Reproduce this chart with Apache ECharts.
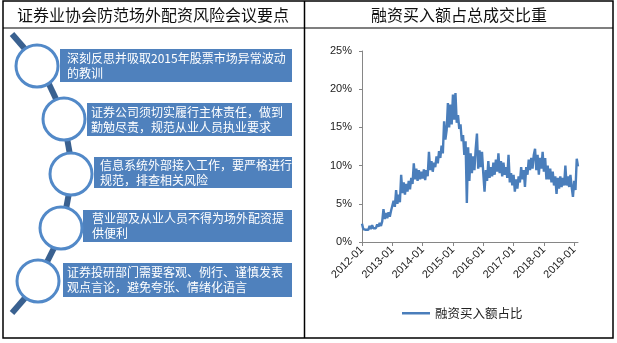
<!DOCTYPE html>
<html>
<head>
<meta charset="utf-8">
<script src="https://cdn.jsdelivr.net/npm/echarts@6/dist/echarts.min.js"></script>
<style>
html,body{margin:0;padding:0;background:#fff;}
#chart{width:617px;height:343px;}
</style>
</head>
<body>
<div id="chart"></div>
<script>
// ---- data ----
const leftTitle = '证券业协会防范场外配资风险会议要点';
const rightTitle = '融资买入额占总成交比重';
const seriesName = '融资买入额占比';
const points = [
  ['深刻反思并吸取2015年股票市场异常波动', '的教训'],
  ['证券公司须切实履行主体责任，做到', '勤勉尽责，规范从业人员执业要求'],
  ['信息系统外部接入工作，要严格进行', '规范，排查相关风险'],
  ['营业部及从业人员不得为场外配资提', '供便利'],
  ['证券投研部门需要客观、例行、谨慎发表', '观点言论，避免夸张、情绪化语言']
];
const tickYears = [2012, 2013, 2014, 2015, 2016, 2017, 2018, 2019];
const tickLabels = ['2012-01', '2013-01', '2014-01', '2015-01', '2016-01', '2017-01', '2018-01', '2019-01'];
// semi-monthly samples (24 per year), values in %
const ratio2012 = [2.4,1.7,1.9,1.6,1.8,1.6,2.1,1.7,2.2,1.8,2.0,1.8,2.3,2.0,2.5,2.1,2.7,4.3,3.0,3.8,3.1,3.9,3.3,4.1];
const ratio2013 = [4.2,5.4,4.6,6.8,5.0,6.2,5.2,8.8,6.4,7.8,6.2,7.6,6.6,8.0,6.9,8.4,7.6,10.3,8.2,9.6,8.0,9.4,8.2,9.2];
const ratio2014 = [8.3,9.5,8.1,9.4,8.6,11.8,9.4,10.6,9.2,10.4,9.8,11.2,10.3,11.9,11.0,12.6,11.6,15.8,13.4,14.6,18.2,15.0,18.0,15.4];
const ratio2015 = [19.3,16.0,19.5,15.6,16.6,14.8,15.4,13.2,14.0,11.4,13.2,5.1,12.4,8.0,11.6,9.0,11.2,9.4,12.2,14.2,9.6,12.0,9.8,11.8];
const ratio2016 = [9.0,6.6,9.4,8.0,10.6,8.4,9.8,8.6,10.4,8.8,10.8,9.2,11.6,9.0,10.6,8.6,10.4,8.8,9.8,8.4,11.4,7.8,9.0,7.4];
const ratio2017 = [8.8,6.6,8.2,7.0,8.6,7.8,9.8,8.2,9.4,7.2,9.8,8.8,10.8,9.4,11.0,9.6,11.4,12.2,9.4,11.4,8.8,11.0,9.6,11.8];
const ratio2018 = [9.2,11.0,8.2,10.0,8.2,9.6,7.8,9.2,7.4,8.6,6.3,8.4,7.0,8.6,7.2,8.4,7.4,10.0,7.4,8.6,7.2,8.8,7.2,5.9];
const ratio2019 = [8.0,6.8,10.9,9.9];

// ---- build series from the arrays ----
const byYear = [[2012, ratio2012],[2013, ratio2013],[2014, ratio2014],[2015, ratio2015],
                [2016, ratio2016],[2017, ratio2017],[2018, ratio2018],[2019, ratio2019]];
const lineData = [];
byYear.forEach(([yr, arr]) => arr.forEach((v, i) => lineData.push([yr + i / 24, v])));
const xMax = lineData[lineData.length - 1][0];

const CJK = '"Noto Sans CJK SC", sans-serif';
const BLUE = '#4F81BD';
const STALK = '#3A6190';
const RING = '#5289C8';

// left diagram layout
const boxes = [
  {x: 60, y: 49, h: 33, tx: 67, cx: 37, cy: 66},
  {x: 87, y: 103, h: 33, tx: 91, cx: 64, cy: 119},
  {x: 94, y: 157, h: 31, tx: 100, cx: 71, cy: 174},
  {x: 83, y: 210, h: 32, tx: 92, cx: 61, cy: 228},
  {x: 63, y: 263, h: 34, tx: 67, cx: 38, cy: 281}
];
const stalks = [
  [12, 34, 25, 49], [48, 82, 56, 99], [67, 138, 70, 155],
  [69, 193, 66, 209], [55, 246, 47, 262], [25, 298, 12, 313]
];

const graphics = [];
stalks.forEach(s => graphics.push({
  type: 'line', z: 10, shape: {x1: s[0], y1: s[1], x2: s[2], y2: s[3]},
  style: {stroke: STALK, lineWidth: 6, lineCap: 'butt'}
}));
boxes.forEach((b, k) => {
  graphics.push({type: 'rect', z: 11, shape: {x: b.x, y: b.y, width: 292 - b.x, height: b.h},
    style: {fill: BLUE}});
  graphics.push({type: 'text', z: 13, style: {
    text: points[k].join('\n'), x: b.tx, y: b.y + b.h / 2, fill: '#fff',
    font: '12px ' + CJK, lineHeight: 15, textAlign: 'left', textVerticalAlign: 'middle', verticalAlign: 'middle'
  }});
  graphics.push({type: 'circle', z: 12, shape: {cx: b.cx, cy: b.cy, r: 21},
    style: {fill: '#fff', stroke: RING, lineWidth: 3}});
});
// frame and titles
graphics.push({type: 'rect', z: 20, shape: {x: 3, y: 1, width: 610, height: 337},
  style: {fill: 'none', stroke: '#000', lineWidth: 1.5}});
graphics.push({type: 'line', z: 20, shape: {x1: 304.5, y1: 1, x2: 304.5, y2: 338},
  style: {stroke: '#000', lineWidth: 1.5}});
graphics.push({type: 'line', z: 20, shape: {x1: 3, y1: 28, x2: 613, y2: 28},
  style: {stroke: '#000', lineWidth: 1.2}});
graphics.push({type: 'text', z: 20, style: {text: leftTitle, x: 153, y: 15, fill: '#111',
  font: '16px ' + CJK, textAlign: 'center', textVerticalAlign: 'middle', verticalAlign: 'middle'}});
graphics.push({type: 'text', z: 20, style: {text: rightTitle, x: 459, y: 15, fill: '#111',
  font: '16px ' + CJK, textAlign: 'center', textVerticalAlign: 'middle', verticalAlign: 'middle'}});

const chart = echarts.init(document.getElementById('chart'), null, {renderer: 'canvas'});
chart.setOption({
  animation: false,
  backgroundColor: '#fff',
  graphic: {elements: graphics},
  grid: {left: 362, right: 39, top: 51, bottom: 101, containLabel: false},
  legend: {
    data: [seriesName], left: 397, top: 302, icon: 'rect', itemWidth: 28, itemHeight: 2.5,
    itemGap: 6, textStyle: {fontFamily: CJK, fontSize: 12.5, color: '#222'}
  },
  xAxis: {
    type: 'value', min: 2012, max: xMax,
    splitLine: {show: false},
    axisLine: {lineStyle: {color: '#868686', width: 1}},
    axisTick: {show: true, length: 4, lineStyle: {color: '#868686'}, customValues: tickYears},
    axisLabel: {
      customValues: tickYears, rotate: 45, margin: 6, hideOverlap: false,
      fontFamily: '"Liberation Sans", Arial, sans-serif', fontSize: 11, color: '#222',
      formatter: v => tickLabels[tickYears.indexOf(Math.round(v))] || ''
    }
  },
  yAxis: {
    type: 'value', min: 0, max: 25, interval: 5,
    splitLine: {show: false},
    axisLine: {show: true, lineStyle: {color: '#868686', width: 1}},
    axisTick: {show: true, length: 3, lineStyle: {color: '#868686'}},
    axisLabel: {formatter: '{value}%', margin: 10,
      fontFamily: '"Liberation Sans", Arial, sans-serif', fontSize: 11, color: '#222'}
  },
  series: [{
    name: seriesName, type: 'line', data: lineData, showSymbol: false, symbol: 'none',
    lineStyle: {color: '#4A7EBB', width: 2.4}, itemStyle: {color: '#4A7EBB'}
  }]
});
</script>
</body>
</html>
